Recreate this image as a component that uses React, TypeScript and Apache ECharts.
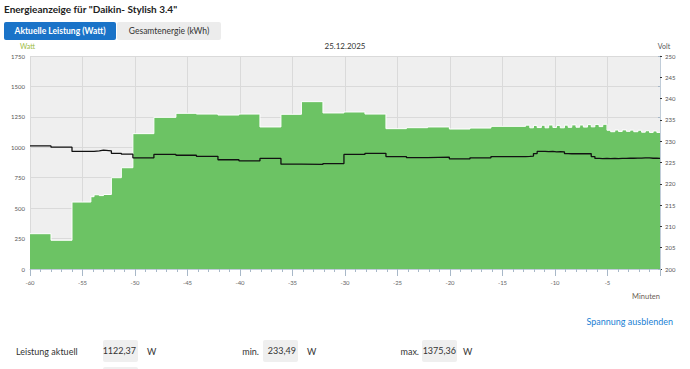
import React, { useEffect, useRef } from "react";
import * as echarts from "echarts";

// time in minutes (start of each measured interval)
const minutes = [
  -60, -58.0, -56.0, -54.2, -53.9, -53.4, -53.0, -52.25, -51.3, -50.2,
  -48.2, -46.1, -44.15, -42.1, -40.1, -38.1, -36.1, -34.15, -32.1, -30.1,
  -28.1, -26.1, -24.15, -22.13, -20.06, -18.1, -16.1,
  -12.8, -12.4, -12.05, -11.7, -11.3, -10.95, -10.6, -10.2, -9.85, -9.5,
  -9.1, -8.75, -8.4, -8.0, -7.65, -7.3, -6.9, -6.55, -6.2, -5.8, -5.45,
  -5.05, -4.7, -4.3, -3.95, -3.6, -3.2, -2.85, -2.5, -2.1, -1.75, -1.4,
  -1.0, -0.65, -0.3, 0,
];

// power in Watt
const wattValues = [
  290, 236, 550, 594, 610, 603, 612, 750, 832, 1112,
  1246, 1279, 1273, 1265, 1273, 1167, 1271, 1375, 1282, 1290,
  1273, 1153, 1161, 1167, 1150, 1158, 1172,
  1182, 1160, 1180, 1162, 1181, 1160, 1183, 1163, 1180, 1160,
  1182, 1164, 1184, 1165, 1183, 1166, 1186, 1168, 1188, 1170, 1189,
  1140, 1128, 1142, 1130, 1143, 1131, 1141, 1128, 1140, 1124, 1136,
  1122, 1134, 1122, 1122.37,
];

// voltage in Volt
const voltValues = [
  228.9, 228.6, 227.6, 227.6, 227.75, 227.9, 227.75, 227.15, 226.95, 226.1,
  226.9, 226.7, 226.45, 225.65, 225.4, 225.95, 224.6, 224.55, 224.75, 226.9,
  227.15, 226.4, 226.15, 226.25, 225.85, 226.1, 226.4,
  226.45, 226.5, 227.1, 227.6, 227.6, 227.55, 227.6, 227.5, 227.55, 227.5,
  227.1, 227.05, 227.1, 227.05, 227.1, 227.05, 227.1, 226.4, 225.95, 225.9, 225.95,
  225.9, 225.95, 225.9, 225.95, 225.95, 226.0, 226.0, 226.05, 226.05, 226.1, 226.1,
  226.0, 226.0, 225.95, 225.95,
];

const title = 'Energieanzeige für "Daikin- Stylish 3.4"';
const tabActive = "Aktuelle Leistung (Watt)";
const tabInactive = "Gesamtenergie (kWh)";
const dateLabel = "25.12.2025";
const stats = { current: "1122,37", min: "233,49", max: "1375,36" };

const FONT = "Lato, 'Noto Sans', sans-serif";

export default function App() {
  const ref = useRef<HTMLDivElement>(null);
  useEffect(() => {
    if (!ref.current) return;
    const chart = echarts.init(ref.current, undefined, { renderer: "svg" });
    const powerData = minutes.map((m, i) => [m, wattValues[i]]);
    const voltData = minutes.map((m, i) => [m, voltValues[i]]);
    const txt = (text: string, x: number, y: number, size: number, fill: string, align = "left", weight = "normal") => ({
      type: "text",
      x,
      y,
      style: { text, font: `${weight} ${size}px ${FONT}`, fill, textAlign: align, textVerticalAlign: "middle" },
    });
    chart.setOption({
      animation: false,
      backgroundColor: "#ffffff",
      grid: { left: 30, right: 30, top: 56, bottom: 100, show: true, backgroundColor: "#efefef", borderWidth: 0 },
      xAxis: {
        type: "value",
        min: -60,
        max: 0,
        interval: 5,
        axisLine: { show: true, lineStyle: { color: "#c0ccd8", width: 1 } },
        axisTick: { show: true, length: 7, lineStyle: { color: "#a8b8c8" } },
        minorTick: { show: true, splitNumber: 5, length: 3, lineStyle: { color: "#a8b8c8" } },
        axisLabel: {
          fontSize: 6,
          color: "#666",
          margin: 10,
          fontFamily: FONT,
          formatter: (v: number) => (v === 0 ? "" : String(v)),
        },
        splitLine: { show: true, lineStyle: { color: "#dadada", width: 1 } },
      },
      yAxis: [
        {
          type: "value",
          min: 0,
          max: 1750,
          interval: 250,
          axisLine: { show: true, lineStyle: { color: "#c0ccd8" } },
          axisTick: { show: true, length: 2, lineStyle: { color: "#a8b8c8" } },
          axisLabel: { fontSize: 6, color: "#555", margin: 5, fontFamily: FONT, formatter: (v: number) => String(v) },
          splitLine: { show: true, lineStyle: { color: "#dadada", width: 1 } },
        },
        {
          type: "value",
          min: 200,
          max: 250,
          interval: 5,
          position: "right",
          axisLine: { show: false },
          axisTick: { show: true, length: 2, lineStyle: { color: "#333" } },
          axisLabel: { fontSize: 6, color: "#555", margin: 5, fontFamily: FONT, formatter: (v: number) => String(v) },
          splitLine: { show: false },
        },
      ],
      series: [
        {
          name: "Leistung",
          type: "line",
          step: "end",
          yAxisIndex: 0,
          data: powerData,
          symbol: "none",
          lineStyle: { color: "#ffffff", width: 1 },
          areaStyle: { color: "#6cc364", opacity: 1 },
          z: 2,
        },
        {
          name: "Spannung",
          type: "line",
          step: "end",
          yAxisIndex: 1,
          data: voltData,
          symbol: "none",
          lineStyle: { color: "#111111", width: 1.3 },
          z: 3,
        },
      ],
      graphic: [
        txt(title, 4, 9, 10, "#222", "left", "bold"),
        { type: "rect", shape: { x: 4, y: 22, width: 112, height: 18, r: 2 }, style: { fill: "#1a73c8" } },
        txt(tabActive, 60, 31, 8.5, "#ffffff", "center", "bold"),
        { type: "rect", shape: { x: 117, y: 22, width: 104, height: 18, r: 2 }, style: { fill: "#ececec" } },
        txt(tabInactive, 169, 31, 8.5, "#333", "center"),
        txt("Watt", 20, 46, 7, "#9bbb3e", "left"),
        txt(dateLabel, 345, 46, 8, "#333", "center"),
        txt("Volt", 664, 46, 7, "#555", "center"),
        txt("Minuten", 660, 296, 7.5, "#6d5f55", "right"),
        txt("Spannung ausblenden", 673, 321, 9, "#1a7fd4", "right"),
        txt("Leistung aktuell", 16, 351, 9, "#333", "left"),
        { type: "rect", shape: { x: 103, y: 340, width: 35, height: 22, r: 2 }, style: { fill: "#efefef" } },
        txt(stats.current, 136, 350, 9, "#333", "right"),
        txt("W", 147, 351, 9, "#333", "left"),
        txt("min.", 259, 351, 9, "#333", "right"),
        { type: "rect", shape: { x: 263, y: 340, width: 35, height: 22, r: 2 }, style: { fill: "#efefef" } },
        txt(stats.min, 296, 350, 9, "#333", "right"),
        txt("W", 307, 351, 9, "#333", "left"),
        txt("max.", 419, 351, 9, "#333", "right"),
        { type: "rect", shape: { x: 422, y: 340, width: 35, height: 22, r: 2 }, style: { fill: "#efefef" } },
        txt(stats.max, 456, 350, 9, "#333", "right"),
        txt("W", 463, 351, 9, "#333", "left"),
        { type: "rect", shape: { x: 103, y: 367, width: 35, height: 6, r: 2 }, style: { fill: "#efefef" } },
      ],
    });
    return () => chart.dispose();
  }, []);
  return <div ref={ref} style={{ width: 690, height: 369, position: "fixed", left: 0, top: 0 }} />;
}
